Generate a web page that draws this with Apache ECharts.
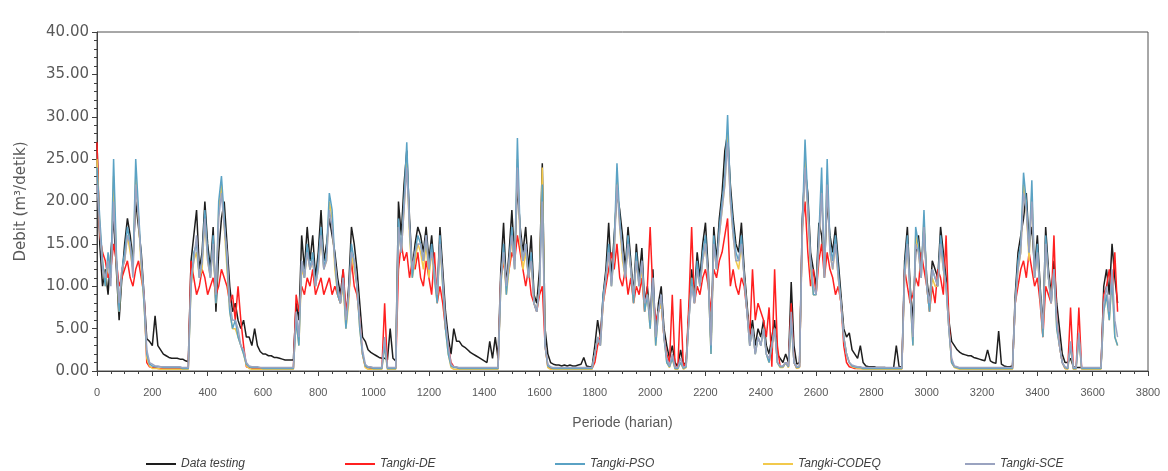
<!DOCTYPE html>
<html>
<head>
<meta charset="utf-8">
<script src="https://cdn.jsdelivr.net/npm/echarts@6/dist/echarts.min.js"></script>
<style>
html,body{margin:0;padding:0;background:#fff;}
#chart{width:1168px;height:471px;}
</style>
</head>
<body>
<div id="chart"></div>
<script>
// Sampling grid (day index of each reading, every 10 days)
const periodeStart = 0;
const periodeStep = 10;

const seriesNames = ['Data testing', 'Tangki-DE', 'Tangki-PSO', 'Tangki-CODEQ', 'Tangki-SCE'];
const xTicks = { min: 0, max: 3800, interval: 200 };
const yTicks = { min: 0, max: 40, interval: 5 };

const dataTesting = [
27,15,10,12,9,14,18,12,6,11,
15,18,16,13,20,17,14,9,3.8,3.5,
3,6.5,3,2.5,2,1.8,1.6,1.5,1.5,1.5,
1.4,1.4,1.2,1.1,13,16,19,12,14,20,
15,12,17,7,14,18,20,15,10,7,
8,6,5,6,4,4,3,5,3,2.3,
2,2,1.8,1.8,1.6,1.6,1.5,1.4,1.3,1.3,
1.3,1.3,8,6,16,12,17,13,16,11,
14,19,13,15,18,16,14,11,9,12,
6,10,17,15,12,8,4,3.5,2.5,2.2,
2,1.8,1.6,1.5,1.5,1.3,5,1.5,1.2,20,
16,22,26,18,12,15,17,16,14,17,
13,16,12,9,17,12,7,4,2,5,
3.5,3.5,3,2.8,2.5,2.2,2,1.8,1.6,1.4,
1.2,1,3.5,1.5,4,1.5,12,17.5,10,14,
19,13,22,17,14,17,12,16,9,8,
12,24.5,5,2,1,0.8,0.7,0.7,0.6,0.7,
0.6,0.7,0.6,0.6,0.7,0.8,1.6,0.6,0.5,0.5,
3,6,4,9,12,17.5,11,16,21,19,
16,12,17,13,9,15,11,14.5,8,10,
6,12,4,8,10,5,3,1.5,3,1,
0.5,2.5,0.8,1,7,12,9,14,11,15,
17.5,12,3,17,13,18,21,26,28,22,
18,15,14,17.5,12,8,4,6,3,5,
4,6,3,2,4,6,2,1.5,1,2,
1,10.5,3,0.8,1,18,24,21,14,12,
10,17.5,16,12,20,16,14,17,13,9,
5,4,4.5,2.5,2,1.5,3,1,0.6,0.5,
0.5,0.5,0.4,0.4,0.4,0.4,0.3,0.3,0.3,3,
0.5,0.5,13,17,10,6,14,16,12,17,
11,8,13,12,11,17,14,11,6,3.5,
3,2.5,2.2,2,1.9,1.8,1.8,1.6,1.5,1.4,
1.3,1.2,2.5,1.2,1,0.9,4.7,0.8,0.6,0.5,
0.5,0.6,9,14,16,18,21,15,17,12,
16,10,5,17,12,9,13,8,5,2,
1,1,1.5,0.5,0.4,0.4,0.4,0.3,0.3,0.3,
0.3,0.3,0.3,0.3,10,12,9,15,11,8
];

const tangkiDE = [
27,16,14,13,11,12,15,13,10,11,
12,13,11,10,12,13,11,9,1,0.5,
0.4,0.4,0.3,0.3,0.3,0.3,0.3,0.3,0.3,0.3,
0.3,0.3,0.3,0.3,13,11,9,10,12,11,
9,10,11,9,10,12,11,10,8,9,
6,10,6,3,0.5,0.4,0.3,0.3,0.3,0.3,
0.3,0.3,0.3,0.3,0.3,0.3,0.3,0.3,0.3,0.3,
0.3,0.3,9,7,10,9,11,10,12,9,
10,11,9,10,11,9,10,9,8,12,
7,9,13,10,9,6,2,0.5,0.4,0.3,
0.3,0.3,0.3,0.3,8,0.4,0.3,0.3,0.3,12,
15,13,14,11,13,12,14,11,10,13,
11,9,14,8,10,8,5,3,1,0.5,
0.4,0.3,0.3,0.3,0.3,0.3,0.3,0.3,0.3,0.3,
0.3,0.3,0.3,0.3,0.3,0.3,11,13,10,12,
14,13,16,14,12,10,12,9,8,7,
9,10,3,0.5,0.3,0.3,0.3,0.3,0.3,0.3,
0.3,0.3,0.3,0.3,0.3,0.3,0.3,0.3,0.3,0.3,
1,3,4,8,10,12,14,12,15,11,
10,12,9,11,8,10,9,11,7,10,
17,9,6,7,8,4,2,1,9,0.5,
0.3,8.5,0.5,1,8,17,8,10,9,11,
12,10,7,12,11,13,14,16,18,10,
12,10,9,11,10,7,4,12,6,8,
7,6,4,7.5,0.5,12,3,0.5,0.5,1,
0.5,8,1,0.3,0.5,17,20,14,10,12,
9,13,15,11,14,12,11,9,10,8,
3,1,0.5,0.4,0.3,0.3,0.3,0.3,0.3,0.3,
0.3,0.3,0.3,0.3,0.3,0.3,0.3,0.3,0.3,0.3,
0.3,0.3,12,10,8,9,11,10,14,12,
10,7,10,8,12,11,9,16,6,1,
0.5,0.4,0.3,0.3,0.3,0.3,0.3,0.3,0.3,0.3,
0.3,0.3,0.3,0.3,0.3,0.3,0.3,0.3,0.3,0.3,
0.3,0.3,8,10,12,13,11,14,12,10,
11,8,4,10,9,8,16,6,3,1,
0.3,0.3,7.5,0.3,0.3,7.5,0.3,0.3,0.3,0.3,
0.3,0.3,0.3,0.3,9,10,12,9,14,7
];

const tangkiPSO = [
24,18,13,10,14,11,25,14,7,12,
14,17,15,12,25,19,13,8,2,0.8,
0.6,0.5,0.5,0.5,0.4,0.4,0.4,0.4,0.4,0.4,
0.4,0.3,0.3,0.3,10,14,15,11,13,19,
14,11,16,8,20,23,18,13,7,5,
6,4,3,2,0.8,0.5,0.4,0.4,0.4,0.4,
0.3,0.3,0.3,0.3,0.3,0.3,0.3,0.3,0.3,0.3,
0.3,0.3,6,3,13,11,15,12,14,10,
13,17,12,14,21,19,13,9,8,11,
5,9,15,13,10,5,2,0.6,0.4,0.4,
0.3,0.3,0.3,0.3,3,0.3,0.3,0.3,0.3,18,
14,20,27,17,11,14,16,15,13,16,
12,15,11,8,16,10,5,2,0.6,0.4,
0.4,0.3,0.3,0.3,0.3,0.3,0.3,0.3,0.3,0.3,
0.3,0.3,0.3,0.3,0.3,0.3,10,15,9,13,
17,12,27.5,16,13,15,11,14,8,7,
10,22,3,0.6,0.4,0.3,0.3,0.3,0.3,0.3,
0.3,0.3,0.3,0.3,0.3,0.3,0.3,0.3,0.3,0.3,
2,4,3,9,11,15,10,15,24.5,18,
14,11,16,12,8,14,10,13,7,9,
5,11,3,7,9,4,1,0.5,1.5,0.3,
0.3,1,0.3,0.5,6,11,8,13,10,14,
16,11,2,16,12,17,20,23,30.2,21,
17,14,13,16,11,7,3,5,2,4,
3,5,2,1,3,5,1,0.5,0.5,1,
0.5,6,1,0.4,0.5,17,27.3,20,13,9,
9,16,24,11,25,15,13,16,12,8,
4,2,1,0.6,0.5,0.4,0.4,0.3,0.3,0.3,
0.3,0.3,0.3,0.3,0.3,0.3,0.3,0.3,0.3,0.3,
0.3,0.3,12,16,9,3,17,15,11,19,
10,7,12,11,10,16,13,10,5,1,
0.5,0.4,0.3,0.3,0.3,0.3,0.3,0.3,0.3,0.3,
0.3,0.3,0.3,0.3,0.3,0.3,0.3,0.3,0.3,0.3,
0.3,0.3,8,13,15,23.4,20,14,22.5,11,
15,9,4,16,11,8,12,5,3,1,
0.4,0.3,3,0.3,0.3,4,0.3,0.3,0.3,0.3,
0.3,0.3,0.3,0.3,7,9,6,11,4,3
];

const tangkiCODEQ = [
25,17,13,10,13,11,23,13,7,12,
13,16,14,12,23,18,12,8,1.5,0.6,
0.3,0.3,0.3,0.2,0.2,0.2,0.2,0.2,0.2,0.2,
0.2,0.2,0.2,0.2,10,13,14,11,12,18,
13,11,15,8,19,22,17,12,7,5,
5,4,3,2,0.6,0.3,0.2,0.2,0.2,0.2,
0.2,0.2,0.2,0.2,0.2,0.2,0.2,0.2,0.2,0.2,
0.2,0.2,6,3,12,11,14,12,13,10,
12,16,12,13,20,18,12,9,8,10,
5,8,14,12,10,5,2,0.4,0.2,0.2,
0.2,0.2,0.2,0.2,3,0.2,0.2,0.2,0.2,17,
14,19,25,16,11,13,15,14,12,15,
11,14,11,8,15,10,5,2,0.4,0.2,
0.2,0.2,0.2,0.2,0.2,0.2,0.2,0.2,0.2,0.2,
0.2,0.2,0.2,0.2,0.2,0.2,10,14,9,12,
16,12,25,15,12,14,11,13,8,7,
10,24,3,0.4,0.2,0.2,0.2,0.2,0.2,0.2,
0.2,0.2,0.2,0.2,0.2,0.2,0.2,0.2,0.2,0.2,
2,4,3,8,11,14,10,14,23,17,
13,11,15,12,8,13,10,12,7,9,
5,10,3,7,8,4,1,0.4,1.5,0.2,
0.2,1,0.2,0.4,6,11,8,12,10,13,
15,11,2,15,12,16,19,22,28,20,
16,13,12,15,11,7,3,5,2,4,
3,5,2,1,3,5,1,0.4,0.4,1,
0.4,6,1,0.3,0.4,16,25,19,12,9,
9,15,22,11,23,14,12,15,11,8,
4,2,1,0.5,0.4,0.3,0.3,0.2,0.2,0.2,
0.2,0.2,0.2,0.2,0.2,0.2,0.2,0.2,0.2,0.2,
0.2,0.2,11,15,9,3,16,14,11,18,
10,7,11,10,10,15,12,10,5,1,
0.4,0.3,0.2,0.2,0.2,0.2,0.2,0.2,0.2,0.2,
0.2,0.2,0.2,0.2,0.2,0.2,0.2,0.2,0.2,0.2,
0.2,0.2,8,12,14,22,19,13,21,11,
14,9,4,15,11,8,12,5,3,1,
0.3,0.2,3,0.2,0.2,4,0.2,0.2,0.2,0.2,
0.2,0.2,0.2,0.2,7,9,6,11,4,3
];

const tangkiSCE = [
22,17,12,11,13,10,20,13,8,12,
13,16,15,11,22,18,13,9,2.5,1,
0.8,0.6,0.6,0.5,0.5,0.5,0.5,0.5,0.5,0.5,
0.5,0.4,0.4,0.4,11,13,16,11,13,18,
13,11,15,9,18,21,17,14,8,6,
6,5,3,2.5,1,0.6,0.5,0.5,0.5,0.4,
0.4,0.4,0.4,0.4,0.4,0.4,0.4,0.4,0.4,0.4,
0.4,0.4,7,4,13,11,14,12,13,10,
12,16,12,13,19,17,13,10,8,11,
6,9,14,13,10,6,2.5,0.8,0.5,0.5,
0.4,0.4,0.4,0.4,4,0.4,0.4,0.4,0.4,17,
14,19,24,17,12,14,15,15,13,16,
12,14,12,9,15,11,6,3,0.8,0.5,
0.5,0.4,0.4,0.4,0.4,0.4,0.4,0.4,0.4,0.4,
0.4,0.4,0.4,0.4,0.4,0.4,11,14,10,13,
16,12,24,16,13,15,11,13,8,7,
10,20,3,0.8,0.5,0.4,0.4,0.4,0.4,0.4,
0.4,0.4,0.4,0.4,0.4,0.4,0.4,0.4,0.4,0.4,
2,4,3,8,11,14,10,14,22,17,
14,11,15,12,9,13,10,13,8,9,
6,11,4,7,9,4,1.5,0.6,2,0.4,
0.4,1.5,0.4,0.6,6,10,8,12,10,13,
15,11,3,15,12,16,19,22,27,20,
16,13,13,15,11,7,3,5,2,4,
3,5,2,1.5,3,5,1,0.6,0.6,1,
0.6,7,1,0.5,0.6,16,24,19,13,10,
9,15,21,11,22,14,12,15,11,8,
4,2,1,0.7,0.6,0.5,0.5,0.4,0.4,0.4,
0.4,0.4,0.4,0.4,0.4,0.4,0.4,0.4,0.4,0.4,
0.4,0.4,11,15,9,4,15,14,11,17,
10,8,12,11,10,15,12,10,5,1.5,
0.6,0.5,0.4,0.4,0.4,0.4,0.4,0.4,0.4,0.4,
0.4,0.4,0.4,0.4,0.4,0.4,0.4,0.4,0.4,0.4,
0.4,0.4,8,12,14,21,19,14,20,11,
14,9,5,15,11,8,12,6,3,1,
0.5,0.4,3.5,0.4,0.4,4.5,0.4,0.4,0.4,0.4,
0.4,0.4,0.4,0.4,8,10,7,12,6,4
];

const seriesValues = [dataTesting, tangkiDE, tangkiPSO, tangkiCODEQ, tangkiSCE];
const seriesColors = ['#1e1e1e', '#ff2020', '#5aa2c4', '#f2c94c', '#9aa3c0'];
// drawing order (yellow sits beneath the blue/grey traces)
const seriesZ = [2, 3, 5, 4, 6];
const legendLeft = [141, 340, 550, 758, 960];

const chart = echarts.init(document.getElementById('chart'), null, { renderer: 'canvas' });

function toPairs(vals) {
  return vals.map((v, i) => [periodeStart + i * periodeStep, v]);
}

const axisColor = '#404040';
const textColor = '#595959';

const option = {
  animation: false,
  backgroundColor: '#ffffff',
  grid: {
    left: 97, right: 20, top: 32, bottom: 100,
    show: true, borderColor: '#505050', borderWidth: 1, backgroundColor: 'transparent'
  },
  xAxis: {
    type: 'value',
    min: xTicks.min, max: xTicks.max, interval: xTicks.interval,
    axisLine: { show: true, onZero: false, lineStyle: { color: axisColor, width: 1 } },
    axisTick: { show: true, inside: false, length: 5, lineStyle: { color: axisColor } },
    minorTick: { show: true, splitNumber: 4, length: 3, lineStyle: { color: axisColor } },
    splitLine: { show: false },
    minorSplitLine: { show: false },
    axisLabel: { fontSize: 11, color: textColor, margin: 16, fontFamily: 'Liberation Sans',
      formatter: v => String(v) },
    name: 'Periode (harian)',
    nameLocation: 'middle',
    nameGap: 45,
    nameTextStyle: { fontSize: 14, color: textColor, fontFamily: 'Liberation Sans' }
  },
  yAxis: {
    type: 'value',
    min: yTicks.min, max: yTicks.max, interval: yTicks.interval,
    axisLine: { show: true, lineStyle: { color: axisColor, width: 1 } },
    axisTick: { show: true, inside: false, length: 5, lineStyle: { color: axisColor } },
    minorTick: { show: true, splitNumber: 5, length: 3, lineStyle: { color: axisColor } },
    splitLine: { show: false },
    minorSplitLine: { show: false },
    axisLabel: {
      fontSize: 15, color: textColor, margin: 8, fontFamily: 'DejaVu Sans',
      formatter: v => v.toFixed(2)
    },
    name: 'Debit (m³/detik)',
    nameLocation: 'middle',
    nameGap: 68,
    nameTextStyle: { fontSize: 15, color: textColor, fontFamily: 'DejaVu Sans' }
  },
  legend: seriesNames.map((n, i) => ({
    data: [n],
    left: legendLeft[i],
    top: 453,
    icon: 'rect',
    itemWidth: 30,
    itemHeight: 2,
    selectedMode: false,
    textStyle: { fontSize: 12, fontStyle: 'italic', color: '#404040', fontFamily: 'Liberation Sans' }
  })),
  series: seriesNames.map((n, i) => ({
    name: n,
    type: 'line',
    data: toPairs(seriesValues[i]),
    symbol: 'none',
    showSymbol: false,
    color: seriesColors[i],
    itemStyle: { color: seriesColors[i] },
    lineStyle: { color: seriesColors[i], width: 1.5 },
    z: seriesZ[i],
    emphasis: { disabled: true },
    silent: true
  }))
};

chart.setOption(option);
</script>
</body>
</html>
